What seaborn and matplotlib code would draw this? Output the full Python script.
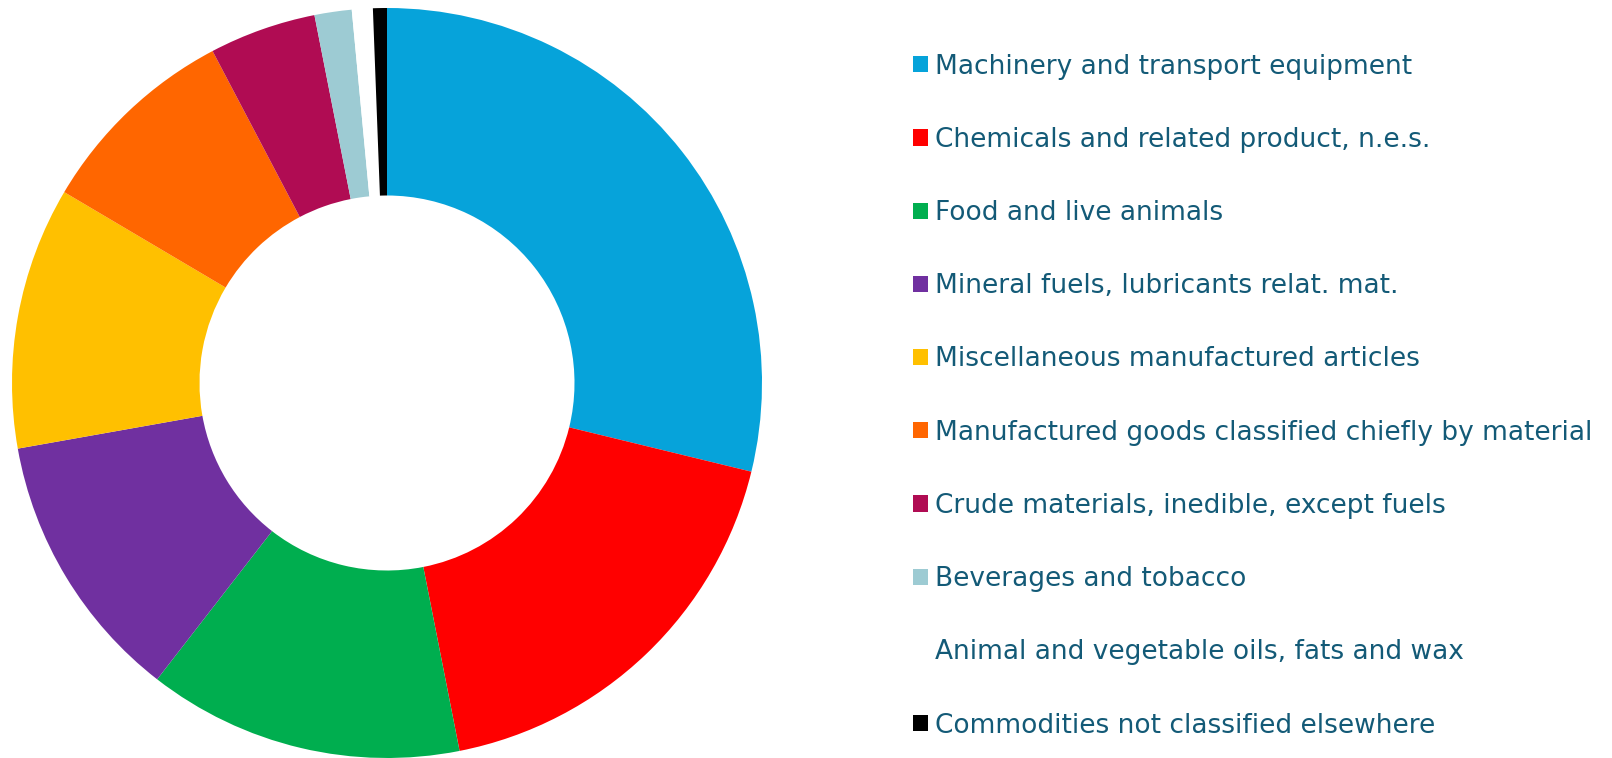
import matplotlib
matplotlib.use("Agg")
import matplotlib.pyplot as plt
import seaborn as sns

# Share of trade by SITC section (%)
categories = [
    "Machinery and transport equipment",
    "Chemicals and related product, n.e.s.",
    "Food and live animals",
    "Mineral fuels, lubricants relat. mat.",
    "Miscellaneous manufactured articles",
    "Manufactured goods classified chiefly by material",
    "Crude materials, inedible, except fuels",
    "Beverages and tobacco",
    "Animal and vegetable oils, fats and wax",
    "Commodities not classified elsewhere",
]
shares = [28.8, 18.1, 13.6, 11.7, 11.3, 8.8, 4.6, 1.6, 0.9, 0.6]
colors = ["#06a3da", "#ff0000", "#00ae4f", "#7030a0", "#ffc000",
          "#ff6600", "#b00c53", "#9dcbd3", "#ffffff", "#000000"]

sns.set_theme(style="white")
plt.rcParams["font.family"] = ["DejaVu Sans"]
text_color = "#135a77"

W, H, DPI = 1612, 758, 100
fig = plt.figure(figsize=(W / DPI, H / DPI), dpi=DPI)
fig.patch.set_facecolor("white")

cx, cy, r = 387, 383, 375
ax = fig.add_axes([(cx - r) / W, (H - cy - r) / H, 2 * r / W, 2 * r / H])
wedges, _ = ax.pie(shares, colors=colors, startangle=90, counterclock=False,
                   radius=1.0, wedgeprops=dict(width=0.5, linewidth=0))
ax.set_xlim(-1, 1)
ax.set_ylim(-1, 1)
ax.set_aspect("equal")
ax.axis("off")

leg = fig.legend(wedges, categories, loc="upper left",
                 bbox_to_anchor=(913 / W, 1 - 53.5 / H),
                 frameon=False, fontsize=19, labelcolor=text_color,
                 handlelength=0.57, handleheight=0.57, handletextpad=0.28,
                 labelspacing=1.79, borderpad=0, borderaxespad=0)

fig.savefig("out.png", dpi=DPI, facecolor="white")
